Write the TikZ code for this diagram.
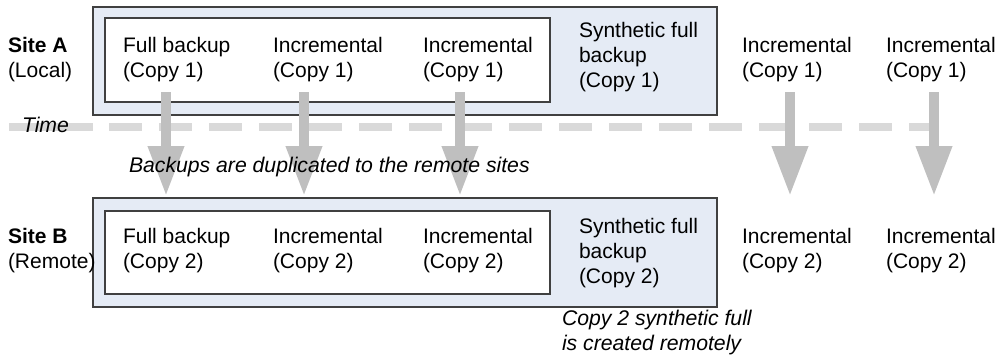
\documentclass[tikz,border=0pt]{standalone}
\usepackage{fontspec}
\setmainfont{Liberation Sans}
\usetikzlibrary{arrows.meta}
\definecolor{boxfill}{RGB}{229,235,245}
\definecolor{boxline}{RGB}{64,64,64}
\definecolor{arrowgray}{RGB}{191,191,191}
\definecolor{dashgray}{RGB}{217,217,217}
\tikzset{
  outerbox/.style={draw=boxline, line width=1pt, fill=boxfill, anchor=north west, inner sep=0pt, outer sep=0pt},
  innerbox/.style={draw=boxline, line width=1pt, fill=white, anchor=north west, inner sep=0pt, outer sep=0pt},
  lbl/.style={anchor=base west, inner sep=0pt, outer sep=0pt, align=left, font=\fontsize{15.75}{18.4}\selectfont},
  note/.style={lbl, font=\fontsize{15.9}{18.4}\selectfont\itshape},
  timeline/.style={draw=dashgray, line width=6pt},
  duparrow/.style={draw=arrowgray, line width=7.5pt, -{Triangle[width=25.5pt,length=37.5pt]}, arrowgray}
}
\begin{document}
\begin{tikzpicture}[x=0.75pt,y=-0.75pt]
\useasboundingbox (0,0) rectangle (1000,364);
% boxes
\node[outerbox, minimum width=468pt, minimum height=81pt] (boxA) at (93,7) {};
\node[innerbox, minimum width=333.75pt, minimum height=63pt] (inA) at (105,18) {};
\node[outerbox, minimum width=468pt, minimum height=81.75pt] (boxB) at (93,198) {};
\node[innerbox, minimum width=333.75pt, minimum height=62.25pt] (inB) at (105,211) {};
% time line
\coordinate (t0) at (9,127);
\coordinate (t1) at (93,127);
\coordinate (t2) at (109,127);
\coordinate (t3) at (936,127);
\draw[timeline] (t0) -- (t1);
\draw[timeline, dash pattern=on 25.1pt off 12.4pt] (t2) -- (t3);
% arrows
\foreach \n/\x in {1/166,2/304,3/460,5/790,6/934}{
  \coordinate (s\n) at (\x,92);
  \coordinate (e\n) at (\x,196);
  \draw[duparrow] (s\n) -- (e\n);
}
% top labels (base = last line)
\node[lbl] (siteA) at (8,77) {\textbf{Site A}\\(Local)};
\node[lbl] (a1) at (123,77) {Full backup\\(Copy 1)};
\node[lbl] (a2) at (273,77) {Incremental\\(Copy 1)};
\node[lbl] (a3) at (423,77) {Incremental\\(Copy 1)};
\node[lbl] (a4) at (579,87) {Synthetic full\\backup\\(Copy 1)};
\node[lbl] (a5) at (742,77) {Incremental\\(Copy 1)};
\node[lbl] (a6) at (886,77) {Incremental\\(Copy 1)};
\node[note] (time) at (22,132) {Time};
\node[note] (dup) at (129,172) {Backups are duplicated to the remote sites};
% bottom labels
\node[lbl] (siteB) at (8,268) {\textbf{Site B}\\(Remote)};
\node[lbl] (b1) at (123,268) {Full backup\\(Copy 2)};
\node[lbl] (b2) at (273,268) {Incremental\\(Copy 2)};
\node[lbl] (b3) at (423,268) {Incremental\\(Copy 2)};
\node[lbl] (b4) at (579,283) {Synthetic full\\backup\\(Copy 2)};
\node[lbl] (b5) at (742,268) {Incremental\\(Copy 2)};
\node[lbl] (b6) at (886,268) {Incremental\\(Copy 2)};
\node[note] (syn) at (562,350) {Copy 2 synthetic full\\is created remotely};
\end{tikzpicture}
\end{document}
